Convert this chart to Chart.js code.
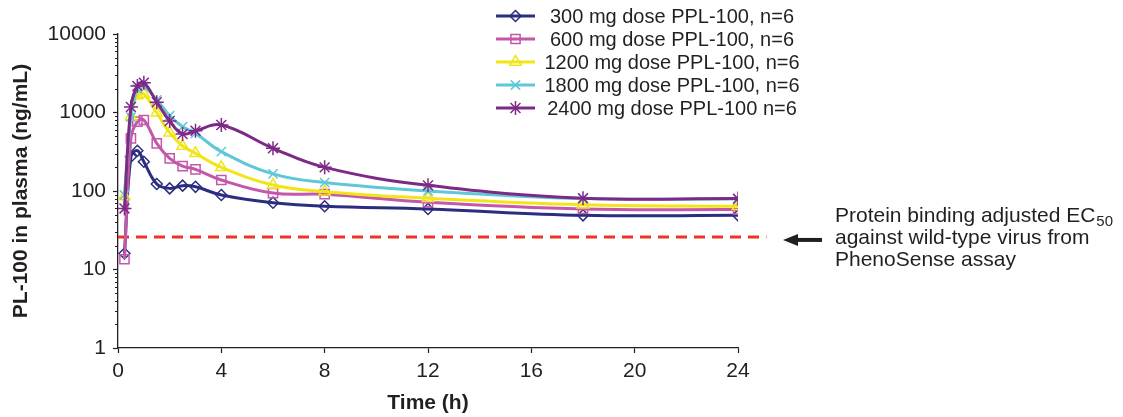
<!DOCTYPE html>
<html>
<head>
<meta charset="utf-8">
<script src="https://cdn.jsdelivr.net/npm/chart.js@4.4.1/dist/chart.umd.min.js"></script>
<style>
  html, body { margin: 0; padding: 0; background: #ffffff; }
  canvas { display: block; }
</style>
</head>
<body>
<canvas id="pk" width="1123" height="417"></canvas>
<script>
// Sampling times (h) and mean plasma concentrations (ng/mL) per dose group
const hours    = [0.25, 0.5, 0.75, 1, 1.5, 2, 2.5, 3, 4, 6, 8, 12, 18, 24];
const dose300  = [16, 273, 326, 236, 123, 108, 117, 113, 89, 71, 64, 59, 49, 49];
const dose600  = [13.5, 469, 764, 802, 405, 261, 208, 189, 138, 94, 91, 72, 59, 58];
const dose1200 = [85, 880, 1650, 1720, 995, 553, 374, 302, 200, 119, 98, 81, 67, 64];
const dose1800 = [89, 870, 2000, 2150, 1450, 910, 659, 543, 317, 165, 128, 100, 80, 79];
const dose2400 = [60, 1175, 2177, 2400, 1350, 779, 532, 587, 693, 350, 200, 118, 81, 80];

const seriesLabels = [
  '300 mg dose PPL-100, n=6',
  '600 mg dose PPL-100, n=6',
  '1200 mg dose PPL-100, n=6',
  '1800 mg dose PPL-100, n=6',
  '2400 mg dose PPL-100 n=6'
];

// Protein-binding adjusted EC50 reference level (ng/mL) and the span it is drawn over (h)
const ec50Level = 26;
const ec50Hours = [0, 25.1];

const xTickValues = [0, 4, 8, 12, 16, 20, 24];
const yTickValues = [1, 10, 100, 1000, 10000];

const noteLines = ['Protein binding adjusted EC', 'against wild-type virus from', 'PhenoSense assay'];
const noteSub = '50';

// Visual styling per series
const seriesStyles = [
  { color: '#2b2e7f', pointStyle: 'rectRot',  radius: 5.5 },
  { color: '#c457a9', pointStyle: 'rect',     radius: 6.5 },
  { color: '#f1e519', pointStyle: 'triangle', radius: 6.5 },
  { color: '#5ec8d9', pointStyle: 'crossRot', radius: 6.5 },
  { color: '#7d2a87', pointStyle: 'star',     radius: 7 }
];
const seriesValues = [dose300, dose600, dose1200, dose1800, dose2400];

const INK = '#231f20';
const FONT = '"Liberation Sans", Arial, Helvetica, sans-serif';
Chart.defaults.font.family = FONT;
Chart.defaults.color = INK;

const datasets = seriesValues.map((vals, i) => ({
  label: seriesLabels[i],
  data: hours.map((h, k) => ({ x: h, y: vals[k] })),
  borderColor: seriesStyles[i].color,
  borderWidth: 3,
  tension: 0.4,
  pointStyle: seriesStyles[i].pointStyle,
  pointRadius: seriesStyles[i].radius,
  pointBorderWidth: 1.5,
  pointBorderColor: seriesStyles[i].color,
  pointBackgroundColor: 'rgba(255,255,255,0)',
  fill: false,
  order: -i
}));

datasets.push({
  label: 'EC50',
  data: ec50Hours.map(h => ({ x: h, y: ec50Level })),
  borderColor: '#ee3524',
  borderWidth: 3,
  borderDash: [11, 7],
  pointRadius: 0,
  tension: 0,
  clip: false,
  order: 10
});

// Short minor tick marks for the 2..9 steps of each decade on the log axis
const minorTicks = {
  id: 'minorTicks',
  afterDraw(chart) {
    const y = chart.scales.y;
    const ctx = chart.ctx;
    const x0 = y.right;
    ctx.save();
    ctx.strokeStyle = INK;
    ctx.lineWidth = 1;
    for (let d = 0; d < yTickValues.length - 1; d++) {
      for (let k = 2; k <= 9; k++) {
        const py = Math.round(y.getPixelForValue(k * yTickValues[d])) + 0.5;
        ctx.beginPath();
        ctx.moveTo(x0 - 3, py);
        ctx.lineTo(x0, py);
        ctx.stroke();
      }
    }
    ctx.restore();
  }
};

// Series key: line sample with marker, centred label text
const seriesKey = {
  id: 'seriesKey',
  afterDraw(chart) {
    const ctx = chart.ctx;
    ctx.save();
    seriesLabels.forEach((label, i) => {
      const st = seriesStyles[i];
      const cy = 16 + 23 * i;
      ctx.strokeStyle = st.color;
      ctx.lineWidth = 3;
      ctx.beginPath();
      ctx.moveTo(496, cy);
      ctx.lineTo(535, cy);
      ctx.stroke();
      ctx.lineWidth = 1.5;
      ctx.fillStyle = 'rgba(255,255,255,0)';
      Chart.helpers.drawPoint(ctx, { pointStyle: st.pointStyle, radius: st.radius, borderWidth: 1.5, rotation: 0 }, 515.5, cy);
      ctx.fillStyle = INK;
      ctx.font = '20px ' + FONT;
      ctx.textAlign = 'center';
      ctx.textBaseline = 'middle';
      ctx.fillText(label, 672, cy + 1);
    });
    ctx.restore();
  }
};

// Arrow and caption pointing at the EC50 reference line
const ec50Note = {
  id: 'ec50Note',
  afterDraw(chart) {
    const ctx = chart.ctx;
    const yLine = chart.scales.y.getPixelForValue(ec50Level);
    const tipX = chart.chartArea.right + 45;
    ctx.save();
    ctx.fillStyle = INK;
    ctx.strokeStyle = INK;
    ctx.lineWidth = 4;
    ctx.beginPath();
    ctx.moveTo(tipX + 12, yLine + 3);
    ctx.lineTo(tipX + 39, yLine + 3);
    ctx.stroke();
    ctx.beginPath();
    ctx.moveTo(tipX, yLine + 3);
    ctx.lineTo(tipX + 15, yLine - 3);
    ctx.lineTo(tipX + 15, yLine + 9);
    ctx.closePath();
    ctx.fill();

    const tx = chart.chartArea.right + 97;
    ctx.textAlign = 'left';
    ctx.textBaseline = 'alphabetic';
    ctx.font = '21px ' + FONT;
    ctx.fillText(noteLines[0], tx, yLine - 15);
    const w = ctx.measureText(noteLines[0]).width;
    ctx.fillText(noteLines[1], tx, yLine + 7);
    ctx.fillText(noteLines[2], tx, yLine + 29);
    ctx.font = '15px ' + FONT;
    ctx.fillText(noteSub, tx + w + 1, yLine - 11);
    ctx.restore();
  }
};

new Chart(document.getElementById('pk').getContext('2d'), {
  type: 'line',
  data: { datasets },
  options: {
    responsive: false,
    animation: false,
    events: [],
    layout: { padding: { top: 34, right: 385, bottom: 0, left: 0 } },
    plugins: { legend: { display: false }, tooltip: { enabled: false } },
    scales: {
      x: {
        type: 'linear',
        min: 0,
        max: 24,
        afterBuildTicks: s => { s.ticks = xTickValues.map(v => ({ value: v })); },
        afterFit: s => { s.height = 69; },
        grid: { drawOnChartArea: false, drawTicks: true, tickLength: 5, tickWidth: 1.2, tickColor: INK },
        border: { display: true, color: INK, width: 1.3 },
        ticks: { padding: 6, color: INK, font: { size: 21 }, maxRotation: 0, autoSkip: false },
        title: { display: true, text: 'Time (h)', color: INK, font: { size: 21, weight: 'bold' }, padding: { top: 0, bottom: 1 } }
      },
      y: {
        type: 'logarithmic',
        min: 1,
        max: 10000,
        afterBuildTicks: s => { s.ticks = yTickValues.map(v => ({ value: v })); },
        afterFit: s => { s.width = 118; },
        grid: { drawOnChartArea: false, drawTicks: true, tickLength: 5, tickWidth: 1.2, tickColor: INK },
        border: { display: true, color: INK, width: 1.3 },
        ticks: { padding: 7, color: INK, font: { size: 21 }, autoSkip: false, callback: v => String(v) },
        title: { display: true, text: 'PL-100 in plasma (ng/mL)', color: INK, font: { size: 21, weight: 'bold' }, padding: { top: 9, bottom: 0 } }
      }
    }
  },
  plugins: [minorTicks, seriesKey, ec50Note]
});
</script>
</body>
</html>
